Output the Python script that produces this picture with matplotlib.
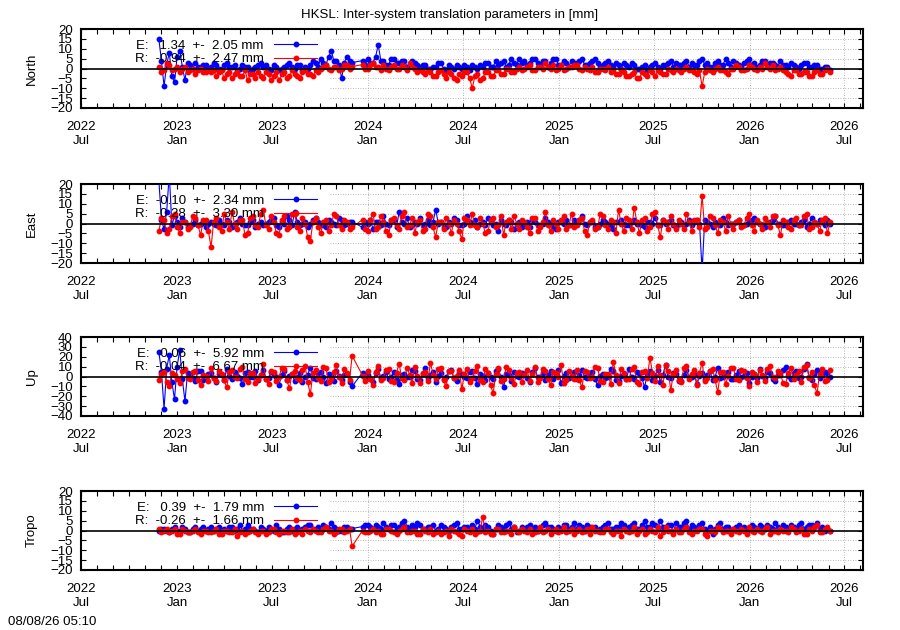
import numpy as np
import pandas as pd
import matplotlib
matplotlib.use('Agg')
import matplotlib.pyplot as plt
import matplotlib.dates as mdates

plt.rcParams['font.family'] = ['Liberation Sans', 'DejaVu Sans']
plt.rcParams['font.size'] = 9.5

nan = np.nan

# one value read every 5 days from 2022-11-27, nan = gap (Dec 2023)
start_date = '2022-11-27'
step = '5D'

north_e = [15, 4, -9, 2, 8, -4, -7, 6, 9, 1, -6, 3, 2, 0, 3, 1, 1, 2, 2, 0,
           1, 3, 2, 0, 0, 2, 3, 1, 1, 2, -1, 0, 2, 1, 1, -2, 0, 1, 2, 3,
           1, 2, 0, -1, 2, 1, -1, 0, 1, 2, 3, 1, 0, 2, 2, -1, 1, 0, 2, 4,
           3, 1, 5, 3, 2, 6, 9, 4, 4, 2, -5, 3, 6, 4, 3, nan, nan, nan, 4, 2,
           5, 3, 3, 6, 12, 4, 4, 2, 2, 5, 5, 3, 3, 4, 4, 1, 2, 4, 3, 2,
           1, 2, 2, 0, 0, 1, 1, 3, 3, 0, -1, 2, 1, 0, 2, 1, 0, 2, 1, -1,
           2, 1, 0, 2, 1, 3, 3, 1, 1, 4, 2, 3, 4, 1, 2, 5, 3, 2, 5, 3,
           4, 2, 3, 5, 5, 3, 2, 4, 4, 1, 3, 5, 5, 2, 2, 4, 3, 1, 4, 3,
           3, 4, 5, 2, 2, 3, 4, 5, 3, 1, 2, 3, 4, 2, 1, 3, 2, 0, 3, 2,
           1, 3, 2, 0, 0, 1, 2, -1, 1, 2, 3, 1, 0, 2, 2, 3, 4, 1, 3, 2,
           2, 3, 4, 1, 3, 2, 2, 4, 5, 2, 3, 1, 1, 3, 4, 2, 2, 5, 3, 1,
           4, 3, 2, 1, 3, 4, 5, 2, 3, 1, 2, 4, 4, 2, 3, 3, 2, 1, 4, 2,
           2, 1, 3, 2, 1, 0, 2, 3, 3, 1, 1, 2, 2, 0, 0, 1, 1, -1]
north_r = [1, -2, -1, 3, 2, -1, 0, 1, -2, 0, 1, -2, -1, 0, -3, -1, 0, -2, -2, -1,
           -2, -1, -4, -2, -1, -5, -3, -2, -5, -3, -2, -4, -4, -1, -6, -3, -3, -5, -2, -4,
           -5, -2, -3, -6, -4, -2, -6, -3, -2, -5, -4, -1, -3, -4, -5, -2, -1, -3, -3, -4,
           -1, -2, 0, 1, 2, 0, -1, 1, 1, -1, 0, 2, 2, 0, 1, nan, nan, nan, 2, 0,
           0, 2, 3, 1, 1, -1, 2, 0, -1, 1, 2, 0, 0, 2, 1, -1, 3, 1, 0, -2,
           -1, -2, -3, -1, -2, -4, -4, -2, -1, -3, -5, -2, -3, -5, -6, -3, -4, -2, -2, -5,
           -10, -4, -3, -6, -5, -2, -2, -4, -4, -1, -1, -3, -3, 0, 0, -2, -2, 0, 1, -1,
           0, 1, 2, -1, -1, 1, 1, 0, 3, 1, 0, 2, -1, 0, 2, -1, 0, 1, 1, 2,
           2, 0, -1, 1, 0, -1, 1, -2, -2, 0, 0, -1, 1, -2, -1, -3, -3, -1, -2, -4,
           -4, -3, -2, -5, -5, -2, -3, -4, -1, -2, -4, -1, -2, -3, -3, 0, -1, -2, 0, -1,
           -2, 0, 1, -1, -1, -2, -3, -1, -9, -2, 0, -1, -2, 0, 1, -1, -1, -2, -3, 0,
           0, 2, 1, -1, -1, 0, 2, 1, 0, -1, 1, 0, 3, 1, 0, 2, -1, 0, 1, -1,
           -2, -3, -4, -1, -1, -3, -3, -2, -2, -4, -4, -2, -1, -3, -3, -1, 0, -2]

east_e = [22, 2, -3, 6, 25, -1, 4, 1, -2, 3, 1, -2, -1, 0, 2, -1, 0, 1, -2, 0,
          1, 0, -1, 2, 0, -1, 2, 1, -2, 0, 1, 3, 0, -1, -1, 1, 2, -2, 0, 1,
          -1, 0, 1, 2, 3, -1, -2, 1, 0, 4, 2, -1, 6, 1, -1, 0, 1, -2, 0, 2,
          3, 1, 0, -1, -2, 2, 1, 0, -1, 3, 2, -1, 0, 1, 1, nan, nan, nan, -2, 1,
          0, 2, -3, 1, 1, -1, 4, 0, -1, 2, 2, -2, 6, 1, 0, 3, -2, -1, 1, 0,
          3, -1, 0, 2, -1, 1, 7, 0, 1, -2, -2, 1, 0, 3, 2, -1, -1, 0, 4, 1,
          0, 2, -2, 0, 1, -1, 3, 1, -1, 0, -4, 2, 0, -1, 2, 1, -3, 0, 1, -2,
          0, 1, -2, 2, 1, -1, -1, 0, 3, 1, 0, -2, -3, 1, 1, 0, 2, -1, -1, 2,
          0, 2, 4, 0, -1, 1, 1, -2, -2, 0, 2, 1, 0, -1, -3, 1, 1, 2, 0, -1,
          -1, 1, 2, 0, 0, -1, -2, 1, 1, 0, 3, -1, -1, 2, 0, 1, 2, -1, -2, 0,
          1, -1, 0, 2, -1, 1, 2, 0, -24, 2, 1, 0, -2, 1, 0, -1, 3, 1, -1, 0,
          0, 1, 2, -1, -1, 0, 1, 2, 3, 1, 0, -1, -2, 1, 1, 2, 4, 0, 0, -1,
          -1, 1, 2, 0, 0, -1, 1, 2, -2, 0, 3, 1, 0, 2, 1, -1, 2, 0]
east_r = [-4, 3, 2, -5, -3, 4, 5, -2, -5, 1, 1, -3, -2, 4, 3, -1, -6, 2, 2, -4,
          -12, 1, 3, -2, -4, 5, 1, -3, 6, 0, -3, 2, 2, -6, -5, 3, 4, -1, -2, 5,
          7, -1, -3, 4, 1, -5, -6, 2, 4, -3, -2, 5, 5, -2, -4, 3, 0, -7, -9, 1,
          3, -2, -5, 1, 2, -4, -1, 5, 4, -1, -3, 2, 1, -3, -2, nan, nan, nan, 2, -3,
          -4, 2, 5, -3, -2, 4, 1, -4, -6, 2, 3, -1, -3, 4, 6, -2, -1, 3, -5, 1,
          2, -4, -3, 5, 4, -2, -7, 1, 1, -3, 3, 0, -5, 2, 0, -4, -8, 3, 2, -1,
          5, -1, -2, 3, 0, -5, -4, 2, 3, -2, -1, 4, -6, 1, 2, -3, 4, 0, -3, 2,
          1, -2, -5, 3, 3, -4, -2, 1, 6, -1, -4, 2, 0, -3, 2, 4, -3, -1, 5, -2,
          -1, 2, 3, -4, -6, 1, 2, -3, -2, 5, 4, -1, -3, 2, 1, -5, 7, 0, -4, 3,
          2, -3, 8, 1, -5, 2, 3, -4, -2, 5, 6, -1, -7, 2, 1, -3, 4, 0, -3, 2,
          0, -3, 5, 1, -4, 2, 2, -2, 14, -3, -2, 4, 3, -1, -5, 2, 1, -4, 4, 0,
          -3, 1, 2, -2, -1, 3, 5, -1, -4, 2, 0, -3, 3, 1, -2, 4, 4, -1, -6, 2,
          1, -2, -3, 2, 3, -1, -1, 4, 5, -3, -2, 1, 0, -4, 2, 3, -5, 1]

up_e = [25, 5, -33, 8, 22, -6, -23, 10, 27, -3, -25, 4, 3, -2, -5, 6, 6, -4, -2, 3,
        4, -2, -6, 3, 2, -4, 8, 1, -3, 5, 1, -2, -8, 4, 5, -1, 0, 6, -4, 2,
        7, -3, -2, 5, 3, -1, -9, 2, 6, -4, 1, 3, -5, 0, 4, -6, -1, 2, 9, -2,
        -3, 4, 5, -1, -7, 3, 2, -5, 6, 1, -4, 2, 3, -6, -10, nan, nan, nan, 4, -2,
        2, -3, -6, 4, 8, -2, 1, 5, -3, 0, 5, -4, -8, 2, 3, -1, 0, 7, 6, -3,
        -4, 3, 9, -2, 2, 5, -6, 1, 4, -3, -1, 6, 7, -2, -5, 4, 3, -1, -2, 5,
        6, -2, -8, 3, 1, -4, 4, 0, -3, 6, 8, -1, -11, 3, 2, -5, 5, 1, -1, 4,
        3, -2, -6, 5, 9, -1, 0, 4, -4, 2, 6, -3, 2, 7, -7, 1, 4, -2, 1, 5,
        -3, 2, 7, -1, -2, 4, 5, -3, -9, 1, 3, -2, 0, 8, 6, -4, -5, 1, 2, -3,
        8, -1, -3, 5, 4, -2, -11, 3, 6, -4, 1, 7, -6, 2, 12, -1, -2, 4, 3, -5,
        -5, 2, 7, -1, 0, 3, -8, 1, 4, -3, 2, 6, -4, 0, 9, -2, -1, 4, 5, -3,
        -3, 2, 6, -1, 1, 4, -7, 0, 3, -2, 8, 1, -2, 5, 4, -3, -5, 2, 2, 7,
        10, 1, -3, 4, 6, -2, 0, 8, 13, -1, -4, 3, 7, -2, 2, 5, 4, -1]
up_r = [-4, 3, 5, -6, -10, 4, 2, -3, -7, 6, 8, -2, -3, 5, 6, -4, -9, 2, 1, -5,
        9, -2, -5, 6, 3, -4, -11, 5, 7, -1, -2, 8, 10, -3, -6, 4, 4, -7, -3, 2,
        13, -3, -8, 6, 5, -5, -1, 9, 8, -4, -12, 3, 6, -2, -4, 7, 11, -6, -18, 4,
        7, -2, -5, 10, 9, -6, -3, 5, 12, -1, -7, 8, 4, -4, 21, nan, nan, nan, 1, -5,
        6, -3, -9, 5, 11, -4, -2, 7, 8, -5, -6, 4, 13, -2, -4, 9, 2, -7, 10, 1,
        -7, 4, 5, -5, 14, 2, -3, 8, 9, -4, -10, 6, 6, -2, 1, 7, -13, 3, 8, -6,
        -2, 6, 11, -4, -6, 8, 4, -9, -17, 3, 9, -5, -3, 10, 7, -2, -8, 4, 5, -6,
        2, 7, -5, 3, 10, -6, -2, 8, 6, -3, -9, 5, 4, -1, 12, -7, -4, 6, 1, -3,
        7, -4, -11, 6, 5, -2, 0, 10, 9, -5, -6, 3, 3, -8, 15, 2, -7, 8, 4, -3,
        -3, 8, 10, -6, -8, 5, 6, -2, 19, 4, -5, 11, 2, -9, 12, 6, -14, 3, 7, -4,
        -6, 9, 11, -3, 3, 7, -9, 4, 14, -5, -2, 6, 8, -4, -16, 5, 5, -8, 1, 9,
        9, -3, -4, 7, 6, -2, -10, 5, 3, -6, 7, 2, -5, 8, 11, -1, -2, 6, 4, -7,
        -8, 4, 9, -3, 2, 6, -6, 10, 12, -2, 5, -9, -17, 3, 8, -5, -4, 7]

tropo_e = [0, 1, 1, 0, -1, 1, 2, 0, 0, 2, 1, -1, -1, 1, 2, 0, 1, 2, 0, 1,
           2, 0, 1, 2, -1, 1, 0, 2, 2, 0, 1, 3, 0, 1, 3, 1, 1, 0, -1, 2,
           1, 0, 2, 1, 0, 3, 1, -1, -1, 1, 2, 0, 1, 2, 0, 1, 2, 3, 3, 1,
           1, 2, 0, 3, 2, 1, 4, 2, 1, 0, 0, 2, 2, 1, 1, nan, nan, nan, 2, 3,
           3, 2, 1, 3, 2, 1, 4, 2, 1, 3, 3, 1, 2, 4, 5, 2, 1, 3, 2, 4,
           3, 1, 1, 2, 2, 3, 0, 1, 3, 2, 1, 0, 2, 3, 4, 1, 1, 2, 2, 0,
           3, 1, 5, 2, 1, 3, 2, 0, -2, 1, 3, 2, 1, 3, 4, 1, 2, -1, 0, 2,
           1, 2, 3, 1, 2, 0, 1, 3, 4, 2, 2, 1, 0, 2, 1, 3, 3, 1, 2, 4,
           1, 3, 2, 0, 3, 2, 1, 2, 0, 1, 2, 3, 4, 1, 1, 2, 2, 4, 3, 1,
           2, 3, 4, 1, 1, 3, 5, 2, 2, 4, 3, 1, 5, 2, 1, 3, 3, -1, 4, 2,
           2, 4, 5, 1, 3, 2, 1, 3, 4, 1, 0, 2, -2, 1, 3, 4, 1, 2, 2, 0,
           1, 2, 3, 1, 2, 0, 1, 3, 2, 1, 3, 2, 1, 3, 2, 1, 4, 2, 1, 3,
           2, 1, 3, 2, 1, 3, 4, 1, 2, 3, 3, 2, 4, 1, 2, 0, 1, 0]
tropo_r = [1, -1, 0, 1, -1, 0, 1, -2, -2, 1, 0, -1, -1, 0, 1, -1, -2, 0, 0, -1,
           -1, 0, 1, -2, -2, 0, 0, -1, -1, 1, -3, -1, 0, -2, -1, 0, 1, -1, -2, 0,
           0, -2, -1, 1, 1, -1, -2, 0, 0, -1, -1, 1, -2, -1, 0, -2, 1, 0, -1, 1,
           0, -1, -1, 1, 2, 0, 0, -2, -1, 1, 1, -1, 0, 1, -8, nan, nan, nan, 0, -1,
           -1, 0, 1, -1, 0, -2, -2, 1, 1, 0, -1, -2, 0, 1, 2, -1, -1, 0, 0, -2,
           -2, 1, 0, -1, 1, -2, -1, 0, -2, -1, 0, -3, 1, 0, -1, -2, -3, 1, 0, -1,
           1, -2, -1, 0, 7, -1, 0, -2, -2, 1, 1, -1, -1, 0, 0, -2, 2, 0, -1, 1,
           0, -1, 1, -2, -1, 0, 2, -1, 0, 1, -2, 0, 1, -1, 0, 2, -1, 0, 1, -2,
           0, 1, -1, 0, 1, -2, 2, 0, 0, -1, -1, 1, 1, -1, -2, 0, 0, -3, 1, 0,
           -1, 0, 2, -2, 0, 1, -2, -1, 1, 0, -1, 2, -3, -1, 2, 0, 0, -2, 1, -1,
           -1, 1, 2, -1, -2, 0, 0, 1, 1, -2, -3, 0, 0, -1, 2, 1, -1, 0, 0, -2,
           1, 0, -1, 1, 0, -2, 2, 0, -1, 1, 0, -1, 1, 2, -2, 0, 0, -1, 1, 0,
           0, -1, 2, 1, -1, 0, 1, -2, -2, 1, 0, 2, 3, -1, -1, 1, 2, 0]

names = ['North', 'East', 'Up', 'Tropo']
e_series = [north_e, east_e, up_e, tropo_e]
r_series = [north_r, east_r, up_r, tropo_r]
e_labels = ['E:   1.34  +-  2.05 mm', 'E:  -0.10  +-  2.34 mm',
            'E:   0.06  +-  5.92 mm', 'E:   0.39  +-  1.79 mm']
r_labels = ['R:  -0.94  +-  2.47 mm', 'R:  -0.28  +-  3.30 mm',
            'R:  -0.04  +-  6.67 mm', 'R:  -0.26  +-  1.66 mm']
ylims = [20, 20, 40, 20]
ysteps = [5, 5, 10, 5]

W, H = 900, 630
fig = plt.figure(figsize=(9, 6.3), dpi=100)
fig.text(0.5, 1 - 15 / H, 'HKSL: Inter-system translation parameters in [mm]',
         ha='center', va='center')
fig.text(8 / W, 1 - 622 / H, '08/08/26 05:10', ha='left', va='center')

tops = [29, 184, 337, 491]
x0, x1 = 81, 863
xmin, xmax = pd.Timestamp('2022-07-01'), pd.Timestamp('2026-08-06')
grid_from = (330 - x0) / (x1 - x0)

for k in range(4):
    ax = fig.add_axes([x0 / W, 1 - (tops[k] + 79) / H, (x1 - x0) / W, 79 / H])
    e = np.array(e_series[k], dtype=float)
    r = np.array(r_series[k], dtype=float)
    de = pd.date_range(start_date, periods=len(e), freq=step)
    dr = pd.date_range(start_date, periods=len(r), freq=step)
    me, mr = ~np.isnan(e), ~np.isnan(r)
    ax.plot(de[me], e[me], '-o', color='blue', lw=0.8, ms=3.2, zorder=3,
            label=e_labels[k])
    ax.plot(dr[mr], r[mr], '-o', color='red', lw=0.8, ms=3.2, zorder=4,
            label=r_labels[k])
    ax.axhline(0, color='black', lw=1.2, zorder=6)

    lim = ylims[k]
    yt = np.arange(-lim, lim + 1, ysteps[k])
    for y in yt:
        if y != 0 and abs(y) != lim:
            ax.axhline(y, xmin=grid_from, color='#a0a0a0', ls=(0, (1, 2)),
                       lw=0.6, zorder=1)
    for d in pd.date_range('2024-01-01', xmax, freq='6MS'):
        ax.axvline(d, color='#a0a0a0', ls=(0, (1, 2)), lw=0.6, zorder=1)

    ax.set_xlim(xmin, xmax)
    ax.set_ylim(-lim, lim)
    ax.set_yticks(yt)
    ax.xaxis.set_major_locator(mdates.MonthLocator(bymonth=[1, 7]))
    ax.xaxis.set_minor_locator(mdates.MonthLocator())
    ax.xaxis.set_major_formatter(mdates.DateFormatter('%Y\n%b'))
    ax.tick_params(which='both', direction='in', top=True, right=True,
                   length=3.5, width=0.8)
    ax.tick_params(axis='x', pad=9)
    ax.tick_params(axis='y', pad=6)
    for lab in ax.get_xticklabels():
        lab.set_linespacing(1.25)
    for s in ax.spines.values():
        s.set_linewidth(1.5)
    ax.set_ylabel(names[k])
    ax.yaxis.set_label_coords(-0.055, 0.5)

    ax.legend(loc='upper left', bbox_to_anchor=((135 - x0) / (x1 - x0), 0.87),
              frameon=False, borderpad=0, borderaxespad=0, markerfirst=False,
              handlelength=3.3, handletextpad=0.75, labelspacing=0.12,
              numpoints=1, fontsize=9.5)

fig.savefig('out.png', dpi=100)
